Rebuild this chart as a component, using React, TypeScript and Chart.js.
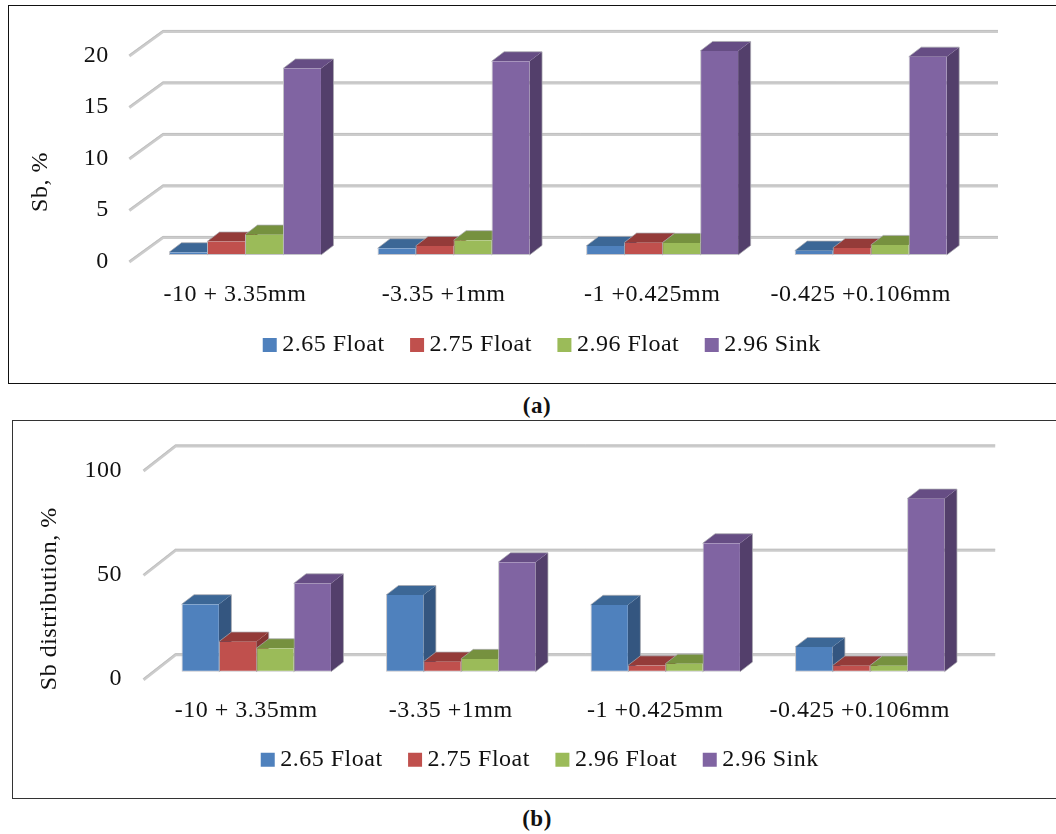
import React, { useEffect, useRef } from "react";
import { Chart, registerables } from "chart.js";

Chart.register(...registerables);

const sizeFractions = ["-10 + 3.35mm", "-3.35 +1mm", "-1 +0.425mm", "-0.425 +0.106mm"];
const seriesNames = ["2.65 Float", "2.75 Float", "2.96 Float", "2.96 Sink"];

// Sb grade, %
const gradeFloat265 = [0.26, 0.65, 0.87, 0.42];
const gradeFloat275 = [1.3, 0.87, 1.2, 0.68];
const gradeFloat296 = [1.97, 1.43, 1.17, 0.97];
const gradeSink296 = [18.1, 18.8, 19.8, 19.25];

// Sb distribution, %
const distFloat265 = [32.3, 36.7, 32, 11.8];
const distFloat275 = [14.4, 4.8, 3, 2.9];
const distFloat296 = [11.2, 6.1, 3.8, 2.9];
const distSink296 = [42.3, 52.4, 61.5, 82.9];

const frontColors = ["#4f81bd", "#c0504d", "#9bbb59", "#8064a2"];
const sideColors = ["#345680", "#843533", "#6a8039", "#533f6b"];
const topColors = ["#3c6796", "#943b39", "#76913f", "#664d84"];

const FONT = "'Liberation Serif', serif";
const FONT_SIZE = 24;
const TEXT = "#111111";
const CANVAS_W = 1070;
const CANVAS_H = 378;

type Frame = {
  left: number;
  top: number;
  areaLeft: number;
  areaRight: number;
  areaTop: number;
  areaBottom: number;
  catPct: number;
  tickPad: number;
  labelShiftY: number;
  xPad: number;
  legendCenterX: number;
  legendCenterY: number;
  legendGap: number;
  titleInset: number;
  titleCenterY: number;
  wallLeft: number;
  wallRight: number;
  wallRise: number;
  frontLeft: number;
  frontDrop: number;
};

const DEPTH_X = 12.5;
const DEPTH_Y = 9.6;

// Draws the back wall rules with their slanted floor ticks, then every bar
// series from left to right with its side and top faces, so nearer bars
// overlap the depth of the ones before them.
const box3d = (f: Frame) => ({
  id: "box3d",
  beforeUpdate(chart: any) {
    chart.ctx.letterSpacing = "0.5px";
  },
  afterLayout(chart: any) {
    const legend = chart.legend;
    const shift = f.legendCenterX - (legend.left + legend.right) / 2;
    legend.left += shift;
    legend.right += shift;
    legend.top = f.legendCenterY - legend.options.labels.padding - FONT_SIZE / 2;
    const title = chart.titleBlock;
    const half = (title.bottom - title.top) / 2;
    title.top = f.titleCenterY - half;
    title.bottom = f.titleCenterY + half;
  },
  beforeDatasetsDraw(chart: any) {
    const { ctx, chartArea, scales } = chart;
    ctx.save();
    ctx.lineJoin = "miter";
    for (const tick of scales.y.ticks) {
      const y = scales.y.getPixelForValue(tick.value);
      const path = (off: number) => {
        ctx.beginPath();
        ctx.moveTo(chartArea.left + f.frontLeft, y + f.frontDrop + off);
        ctx.lineTo(chartArea.left + f.wallLeft, y - f.wallRise + off);
        ctx.lineTo(chartArea.right + f.wallRight, y - f.wallRise + off);
      };
      ctx.strokeStyle = "#cccccc";
      ctx.lineWidth = 3;
      path(0);
      ctx.stroke();
      ctx.strokeStyle = "#bcbcbc";
      ctx.lineWidth = 0.8;
      path(-1.1);
      ctx.stroke();
    }
    chart.data.datasets.forEach((_: any, i: number) => {
      const meta = chart.getDatasetMeta(i);
      for (const bar of meta.data) {
        const { x, y, base, width } = bar.getProps(["x", "y", "base", "width"], true);
        const l = x - width / 2;
        const r = x + width / 2;
        ctx.fillStyle = sideColors[i];
        ctx.beginPath();
        ctx.moveTo(r, y);
        ctx.lineTo(r + DEPTH_X, y - DEPTH_Y);
        ctx.lineTo(r + DEPTH_X, base - DEPTH_Y);
        ctx.lineTo(r, base);
        ctx.closePath();
        ctx.fill();
        ctx.fillStyle = topColors[i];
        ctx.beginPath();
        ctx.moveTo(l, y);
        ctx.lineTo(l + DEPTH_X, y - DEPTH_Y);
        ctx.lineTo(r + DEPTH_X, y - DEPTH_Y);
        ctx.lineTo(r, y);
        ctx.closePath();
        ctx.fill();
        ctx.strokeStyle = "rgba(170,170,175,0.9)";
        ctx.lineWidth = 0.8;
        ctx.beginPath();
        ctx.moveTo(l, y);
        ctx.lineTo(l + DEPTH_X, y - DEPTH_Y);
        ctx.lineTo(r + DEPTH_X, y - DEPTH_Y);
        ctx.lineTo(r + DEPTH_X, base - DEPTH_Y);
        ctx.lineTo(r, base);
        ctx.stroke();
      }
      meta.controller.draw();
    });
    ctx.restore();
    return false;
  },
});

function Panel({ frame, values, max, step, title }: { frame: Frame; values: number[][]; max: number; step: number; title: string }) {
  const ref = useRef<HTMLCanvasElement>(null);
  useEffect(() => {
    const f = frame;
    const chart = new Chart(ref.current as HTMLCanvasElement, {
      type: "bar",
      data: {
        labels: sizeFractions,
        datasets: seriesNames.map((label, i) => ({
          label,
          data: values[i],
          backgroundColor: frontColors[i],
          borderColor: "rgba(190,190,195,0.9)",
          borderWidth: { left: 1, bottom: 1, top: 0, right: 0 },
          borderSkipped: false,
          barPercentage: 1,
          categoryPercentage: f.catPct,
        })),
      },
      options: {
        responsive: false,
        animation: false,
        events: [],
        layout: {
          autoPadding: false,
          padding: { top: f.areaTop, left: 0, bottom: 0, right: CANVAS_W - f.areaRight },
        },
        scales: {
          x: {
            grid: { display: false },
            border: { display: false },
            ticks: {
              color: TEXT,
              font: { family: FONT, size: FONT_SIZE },
              padding: f.xPad,
              labelOffset: -10,
              maxRotation: 0,
              autoSkip: false,
            },
            afterFit(s: any) {
              s.height = CANVAS_H - f.areaBottom - (s.chart.legend?.height ?? 0);
            },
          },
          y: {
            min: 0,
            max,
            grid: { display: false },
            border: { display: false },
            ticks: {
              stepSize: step,
              color: TEXT,
              font: { family: FONT, size: FONT_SIZE },
              padding: f.tickPad,
              labelOffset: f.labelShiftY,
            },
            afterFit(s: any) {
              s.width = f.areaLeft - (s.chart.titleBlock?.width ?? 0);
            },
          },
        },
        plugins: {
          tooltip: { enabled: false },
          title: {
            display: true,
            text: title,
            position: "left",
            color: TEXT,
            font: { family: FONT, size: FONT_SIZE, weight: "normal" },
            padding: { top: f.titleInset, bottom: 0 },
          },
          legend: {
            position: "bottom",
            labels: {
              usePointStyle: true,
              pointStyle: "rect",
              boxWidth: 1,
              boxHeight: 14,
              padding: f.legendGap,
              color: TEXT,
              font: { family: FONT, size: FONT_SIZE },
              generateLabels: (c: any) =>
                Chart.defaults.plugins.legend.labels.generateLabels(c).map((it: any) => ({ ...it, lineWidth: 0 })),
            },
          },
        },
      },
      plugins: [box3d(f)],
    } as any);
    return () => chart.destroy();
  }, []);
  return (
    <canvas
      ref={ref}
      width={CANVAS_W}
      height={CANVAS_H}
      style={{ position: "absolute", left: frame.left, top: frame.top, display: "block" }}
    />
  );
}

const frameA: Frame = {
  left: 8,
  top: 5,
  areaLeft: 132.7,
  areaRight: 967,
  areaTop: 44,
  areaBottom: 250,
  catPct: 0.7287,
  tickPad: 24,
  labelShiftY: 6.5,
  xPad: 17,
  legendCenterX: 537,
  legendCenterY: 340,
  legendGap: 32,
  titleInset: 18,
  titleCenterY: 177,
  wallLeft: 22.3,
  wallRight: 23,
  wallRise: 17.5,
  frontLeft: -11.4,
  frontDrop: 7,
};

const frameB: Frame = {
  left: 12.5,
  top: 420.3,
  areaLeft: 141,
  areaRight: 959,
  areaTop: 43,
  areaBottom: 251.7,
  catPct: 0.7306,
  tickPad: 24,
  labelShiftY: 7.5,
  xPad: 17,
  legendCenterX: 530,
  legendCenterY: 339.7,
  legendGap: 32,
  titleInset: 22,
  titleCenterY: 178.7,
  wallLeft: 21.5,
  wallRight: 23.2,
  wallRise: 17,
  frontLeft: -10.5,
  frontDrop: 8,
};

const boxStyle = (top: number, left: number, color: string): React.CSSProperties => ({
  position: "absolute",
  top,
  left,
  width: 1100,
  height: 377,
  border: `1px solid ${color}`,
  boxSizing: "content-box",
});

const captionStyle = (top: number): React.CSSProperties => ({
  position: "absolute",
  top,
  left: 487,
  width: 100,
  textAlign: "center",
  fontFamily: FONT,
  fontWeight: "bold",
  fontSize: 23,
  lineHeight: "24px",
  color: "#111",
  letterSpacing: "0.5px",
});

export default function App() {
  return (
    <div style={{ position: "fixed", left: 0, top: 0, width: 1056, height: 834, overflow: "hidden", background: "#fff" }}>
      <div style={boxStyle(5, 8, "#111")} />
      <div style={boxStyle(420, 12, "#333")} />
      <Panel frame={frameA} values={[gradeFloat265, gradeFloat275, gradeFloat296, gradeSink296]} max={20} step={5} title="Sb, %" />
      <Panel frame={frameB} values={[distFloat265, distFloat275, distFloat296, distSink296]} max={100} step={50} title="Sb distribution, %" />
      <div style={captionStyle(394)}>(a)</div>
      <div style={captionStyle(807)}>(b)</div>
    </div>
  );
}
